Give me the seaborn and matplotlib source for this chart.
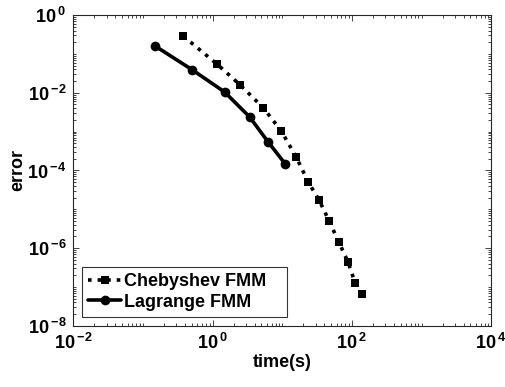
import numpy as np
import pandas as pd
import matplotlib
matplotlib.use("Agg")
import matplotlib.pyplot as plt
import matplotlib.ticker as mticker
import seaborn as sns

# values
cheb_time = [0.377, 1.15, 2.48, 5.32, 9.64, 15.7, 23.3, 33.9, 47.2, 64.2, 87.6, 111, 139]
cheb_err = [0.29, 0.055, 0.0159, 0.0041, 1.04e-3, 2.28e-4, 5.2e-5, 1.69e-5, 4.9e-6,
            1.48e-6, 4.4e-7, 1.26e-7, 6.7e-8]
lag_time = [0.149, 0.513, 1.48, 3.38, 6.21, 11.0]
lag_err = [0.16, 0.0386, 0.0105, 0.0024, 5.5e-4, 1.48e-4]

sns.set_style("white")
plt.rcParams["font.family"] = ["Liberation Sans", "DejaVu Sans"]
plt.rcParams["font.weight"] = "bold"
plt.rcParams["text.color"] = "black"
plt.rcParams["axes.labelcolor"] = "black"
plt.rcParams["mathtext.fontset"] = "custom"
plt.rcParams["mathtext.rm"] = "Liberation Sans:bold"
plt.rcParams["mathtext.bf"] = "Liberation Sans:bold"
plt.rcParams["mathtext.it"] = "Liberation Sans:bold"

cheb = pd.DataFrame({"time": cheb_time, "error": cheb_err})
lag = pd.DataFrame({"time": lag_time, "error": lag_err})

fig = plt.figure(figsize=(5.06, 3.87), dpi=100)
ax = fig.add_axes([0.145, 0.158, 0.826, 0.803])

sns.lineplot(data=cheb, x="time", y="error", ax=ax, color="black", linestyle=":",
             linewidth=2.6, marker="s", markersize=5.5, markeredgewidth=0,
             label="Chebyshev FMM")
sns.lineplot(data=lag, x="time", y="error", ax=ax, color="black", linestyle="-",
             linewidth=2.6, marker="o", markersize=7, markeredgewidth=0,
             label="Lagrange FMM")

ax.set_xscale("log")
ax.set_yscale("log")
ax.set_xlim(1e-2, 1e4)
ax.set_ylim(1e-8, 1)

fmt = mticker.FuncFormatter(lambda v, p: r"$10^{\:%d}$" % int(round(np.log10(v))))
ax.xaxis.set_major_locator(mticker.FixedLocator([1e-2, 1e0, 1e2, 1e4]))
ax.yaxis.set_major_locator(mticker.FixedLocator([1e-8, 1e-6, 1e-4, 1e-2, 1e0]))
ax.xaxis.set_major_formatter(fmt)
ax.yaxis.set_major_formatter(fmt)
ax.xaxis.set_minor_locator(mticker.LogLocator(base=10, subs=np.arange(1, 10), numticks=20))
ax.yaxis.set_minor_locator(mticker.LogLocator(base=10, subs=np.arange(1, 10), numticks=20))
ax.xaxis.set_minor_formatter(mticker.NullFormatter())
ax.yaxis.set_minor_formatter(mticker.NullFormatter())

ax.tick_params(which="both", direction="in", top=True, right=True, bottom=True, left=True,
               labelsize=13, width=0.6, colors="#262626", labelcolor="black")
ax.tick_params(which="major", length=4, pad=5)
ax.tick_params(which="minor", length=2)
for s in ax.spines.values():
    s.set_linewidth(0.8)
    s.set_color("#262626")

ax.set_xlabel("time(s)", fontsize=13, fontweight="bold", labelpad=1, color="black")
ax.set_ylabel("error", fontsize=13, fontweight="bold", labelpad=1, color="black")

leg = ax.legend(loc="lower left", bbox_to_anchor=(0.021, 0.029, 0.491, 0.15), mode="expand",
                fontsize=13, frameon=True, fancybox=False,
                edgecolor="black", handlelength=1.8, handletextpad=0.15,
                borderpad=0.35, labelspacing=0.2, borderaxespad=0.0)
leg.get_frame().set_linewidth(0.8)
for t in leg.get_texts():
    t.set_fontweight("bold")
    t.set_color("black")

fig.savefig("out.png", dpi=100)
